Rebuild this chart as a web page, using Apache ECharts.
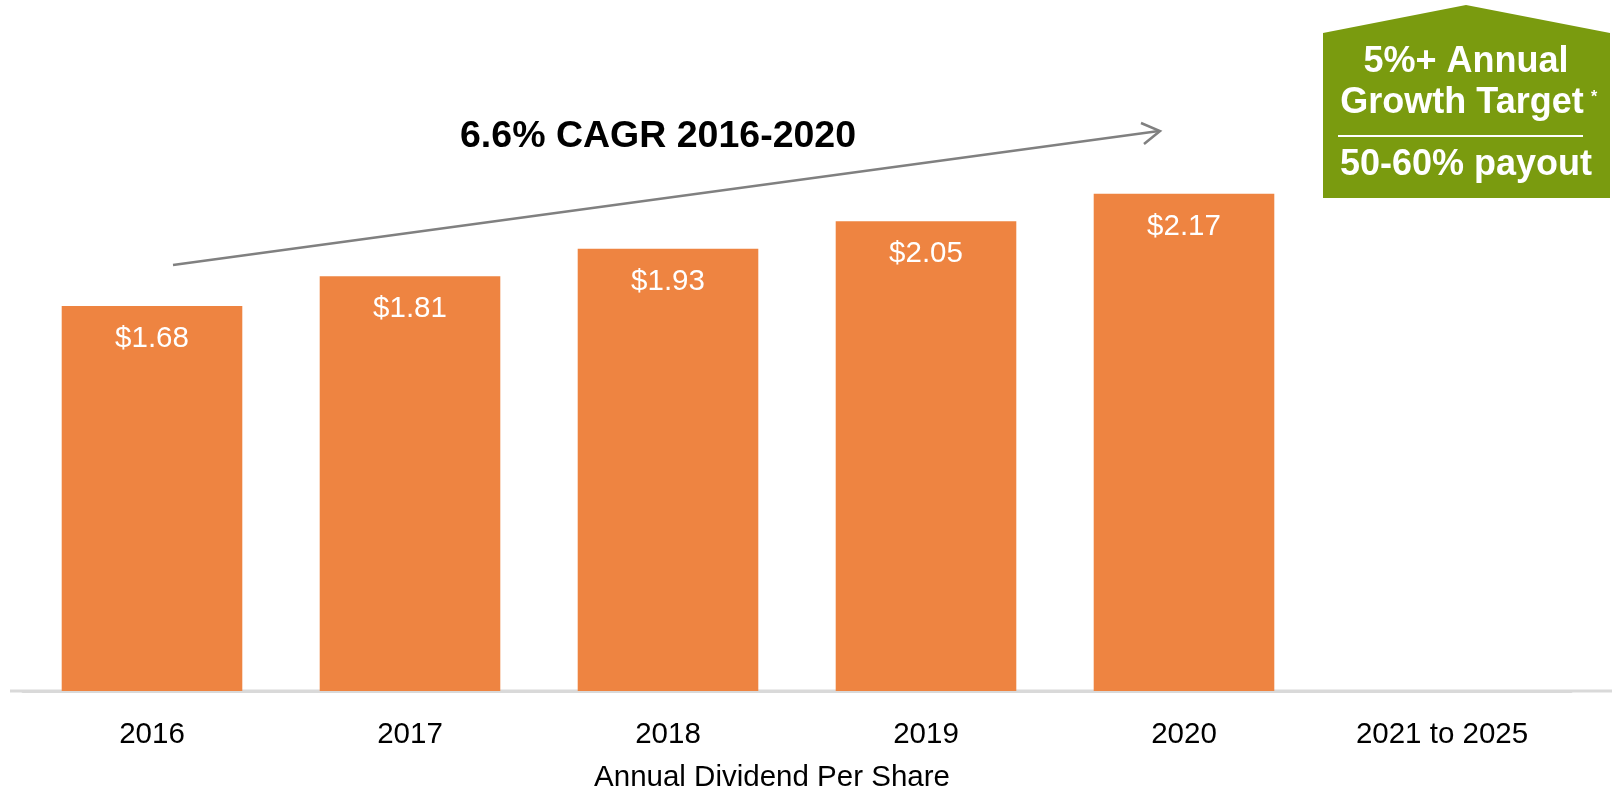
<!DOCTYPE html>
<html>
<head>
<meta charset="utf-8">
<script src="https://cdn.jsdelivr.net/npm/echarts@6/dist/echarts.min.js"></script>
<style>
  html, body { margin: 0; padding: 0; background: #fff; }
  #dividendBar { width: 1612px; height: 788px; }
</style>
</head>
<body>
<div id="dividendBar"></div>
<script>
var xData = ['2016', '2017', '2018', '2019', '2020', '2021 to 2025']
var dividendData = [1.68, 1.81, 1.93, 2.05, 2.17, '-'] // 2021-2025 has no bar, only the target box
var axisName = 'Annual Dividend Per Share'
var cagrText = '6.6% CAGR 2016-2020'
var targetLines = ['5%+ Annual', 'Growth Target', '50-60% payout']

var barColor = '#ee8441'
var greenColor = '#7a9b0f'
var fontFamily = "'Liberation Sans', Arial, sans-serif"

let myChart = echarts.init(document.getElementById('dividendBar'))

var option = {
    backgroundColor: '#fff',
    animation: false,
    grid: {
        left: 23,
        right: 41,
        top: 118,
        bottom: 97,
        outerBoundsMode: 'none',
        containLabel: false
    },
    xAxis: {
        type: 'category',
        data: xData,
        name: axisName,
        nameLocation: 'middle',
        nameGap: 72,
        nameTextStyle: {
            color: '#000',
            fontSize: 29.5,
            fontFamily: fontFamily,
            padding: [0, 50, 0, 0]
        },
        axisLine: {
            show: true,
            lineStyle: {
                color: '#d9d9d9',
                width: 3
            }
        },
        axisTick: { show: false },
        axisLabel: {
            color: '#000',
            fontSize: 29.5,
            fontFamily: fontFamily,
            margin: 29
        }
    },
    yAxis: {
        type: 'value',
        min: 0,
        max: 2.5,
        show: false,
        splitLine: { show: false }
    },
    series: [{
        name: axisName,
        type: 'bar',
        barWidth: '70%',
        data: dividendData,
        itemStyle: {
            color: barColor
        },
        label: {
            show: true,
            position: 'insideTop',
            distance: 18,
            color: '#fff',
            fontSize: 29.5,
            fontFamily: fontFamily,
            formatter: function (p) {
                return '$' + Number(p.value).toFixed(2)
            }
        }
    }],
    graphic: [
        // baseline runs a bit past the plot area on both sides
        {
            type: 'line',
            z: -1,
            shape: { x1: 10, y1: 691, x2: 1612, y2: 691 },
            style: { stroke: '#d9d9d9', lineWidth: 3 }
        },
        // CAGR title + arrow
        {
            type: 'text',
            left: 460,
            top: 118,
            style: {
                text: cagrText,
                fill: '#000',
                font: 'bold 37.5px ' + fontFamily
            }
        },
        {
            type: 'line',
            shape: { x1: 173, y1: 265, x2: 1159, y2: 131 },
            style: { stroke: '#808080', lineWidth: 2.5 }
        },
        {
            type: 'polyline',
            shape: { points: [[1141, 123], [1160, 131], [1144, 144]] },
            style: { stroke: '#808080', lineWidth: 2.5, fill: null }
        },
        // green target box
        {
            type: 'polygon',
            shape: { points: [[1323, 33], [1466, 5], [1610, 33], [1610, 198], [1323, 198]] },
            style: { fill: greenColor }
        },
        {
            type: 'text',
            x: 1466,
            y: 62,
            style: {
                text: targetLines[0],
                fill: '#fff',
                font: 'bold 36px ' + fontFamily,
                align: 'center',
                verticalAlign: 'middle'
            }
        },
        {
            type: 'text',
            x: 1462,
            y: 103,
            style: {
                text: targetLines[1],
                fill: '#fff',
                font: 'bold 36px ' + fontFamily,
                align: 'center',
                verticalAlign: 'middle'
            }
        },
        {
            type: 'text',
            x: 1594,
            y: 98,
            style: {
                text: '*',
                fill: '#fff',
                font: 'bold 16px ' + fontFamily,
                align: 'center',
                verticalAlign: 'middle'
            }
        },
        {
            type: 'line',
            shape: { x1: 1338, y1: 136, x2: 1583, y2: 136 },
            style: { stroke: '#fff', lineWidth: 2 }
        },
        {
            type: 'text',
            x: 1466,
            y: 165,
            style: {
                text: targetLines[2],
                fill: '#fff',
                font: 'bold 36px ' + fontFamily,
                align: 'center',
                verticalAlign: 'middle'
            }
        }
    ]
}

myChart.setOption(option)

window.addEventListener('resize', function () {
    myChart.resize()
})
</script>
</body>
</html>
